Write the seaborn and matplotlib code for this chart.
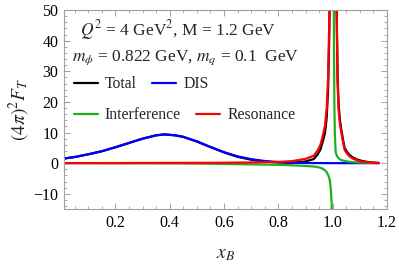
import numpy as np
import pandas as pd
import matplotlib
matplotlib.use('Agg')
import matplotlib.pyplot as plt
import seaborn as sns
from matplotlib.lines import Line2D
from matplotlib.ticker import MultipleLocator

# =====================
# DATA
# =====================
x_b = [0.01, 0.05, 0.1, 0.15, 0.2, 0.25, 0.3, 0.35, 0.38, 0.42,
       0.45, 0.5, 0.55, 0.6, 0.65, 0.7, 0.75, 0.8, 0.85, 0.9,
       0.93, 0.945, 0.955, 0.965, 0.972, 0.978, 0.983, 0.987, 0.99, 0.993,
       0.996, 0.998, 1.0, 1.002, 1.004, 1.006, 1.008, 1.011, 1.015, 1.018,
       1.022, 1.027, 1.032, 1.038, 1.044, 1.052, 1.062, 1.074, 1.09, 1.11,
       1.13, 1.15, 1.17]

dis = [1.5, 2.0, 2.9, 3.9, 5.2, 6.6, 8.0, 9.1, 9.4, 9.1,
       8.6, 7.1, 5.3, 3.6, 2.2, 1.3, 0.7, 0.35, 0.15, 0.06,
       0.03, 0.02, 0.02, 0.01, 0.01, 0.01, 0.0, 0.0, 0.0, 0.0,
       0.0, 0.0, 0.0, 0.0, 0.0, 0.0, 0.0, 0.0, 0.0, 0.0,
       0.0, 0.0, 0.0, 0.0, 0.0, 0.0, 0.0, 0.0, 0.0, 0.0,
       0.0, 0.0, 0.0]

interference = [0.0, -0.01, -0.02, -0.03, -0.04, -0.05, -0.06, -0.08, -0.09, -0.1,
                -0.12, -0.15, -0.2, -0.25, -0.32, -0.4, -0.48, -0.55, -0.7, -0.9,
                -1.1, -1.3, -1.5, -1.9, -2.4, -3.0, -3.8, -4.8, -6.0, -8.5,
                -13.0, -20.0, np.nan, 80.0, 50.0, 20.0, 9.0, 3.5, 2.5, 2.0,
                1.6, 1.2, 1.0, 0.85, 0.7, 0.55, 0.45, 0.35, 0.25, 0.18,
                0.12, 0.08, 0.05]

resonance = [0.0, 0.01, 0.01, 0.02, 0.03, 0.04, 0.05, 0.06, 0.07, 0.08,
             0.09, 0.1, 0.12, 0.15, 0.18, 0.22, 0.3, 0.4, 0.65, 1.4,
             2.4, 4.2, 6.0, 9.5, 12.5, 18.0, 28.0, 45.0, 65.0, 90.0,
             110.0, 120.0, 122.0, 120.0, 115.0, 105.0, 90.0, 70.0, 45.0, 26.0,
             17.0, 12.5, 9.8, 6.8, 4.3, 3.2, 2.2, 1.5, 0.9, 0.5,
             0.25, 0.1, 0.03]

total = [1.5, 2.0, 2.89, 3.89, 5.19, 6.59, 7.99, 9.08, 9.38, 9.08,
         8.57, 7.05, 5.22, 3.5, 2.06, 1.12, 0.52, 0.2, 0.1, 0.56,
         1.33, 2.92, 4.52, 7.61, 10.11, 15.01, 24.2, 40.2, 59.0, 81.5,
         97.0, 100.0, np.nan, 200.0, 165.0, 125.0, 99.0, 73.5, 47.5, 28.0,
         18.6, 13.7, 10.8, 7.65, 5.0, 3.75, 2.65, 1.85, 1.15, 0.68,
         0.37, 0.18, 0.08]

curve_names = ['Total', 'DIS', 'Interference', 'Resonance']
curve_colors = ['#000000', '#0000ff', '#1fb01f', '#ff0000']

# long-form table; a NaN marks a break, so each side gets its own unit
rows = []
for name, vals in zip(curve_names, [total, dis, interference, resonance]):
    branch = 0
    for xv, yv in zip(x_b, vals):
        if np.isnan(yv):
            branch += 1
            continue
        rows.append((xv, yv, name, f'{name}_{branch}'))
df = pd.DataFrame(rows, columns=['x', 'y', 'curve', 'branch'])

# =====================
# STYLE
# =====================
sns.set_theme(style='ticks')
plt.rcParams['font.family'] = ['Liberation Serif', 'DejaVu Serif']
plt.rcParams['mathtext.fontset'] = 'stix'

fig = plt.figure(figsize=(3.99, 2.64), dpi=100, facecolor='white')
ax = fig.add_axes([0.160, 0.208, 0.810, 0.754])

sns.lineplot(data=df, x='x', y='y', hue='curve', units='branch',
             estimator=None, sort=False, hue_order=curve_names,
             palette=curve_colors, linewidth=1.6, legend=False, ax=ax)

ax.set_xlim(0.01, 1.2)
ax.set_ylim(-15, 50)
ax.xaxis.set_major_locator(MultipleLocator(0.2))
ax.xaxis.set_minor_locator(MultipleLocator(0.05))
ax.yaxis.set_major_locator(MultipleLocator(10))
ax.yaxis.set_minor_locator(MultipleLocator(2))
ax.xaxis.set_major_formatter(matplotlib.ticker.FormatStrFormatter('%.1f'))

frame_col = '#a0a0a0'
for s in ax.spines.values():
    s.set_color(frame_col)
    s.set_linewidth(0.8)
ax.tick_params(which='both', direction='in', top=True, right=True,
               color=frame_col, labelsize=11.5, labelcolor='black')
ax.tick_params(which='major', length=4.5, width=0.7, pad=4)
ax.tick_params(which='minor', length=2.2, width=0.6)

ax.set_xlabel(r'$x_B$', fontsize=14)
ax.set_ylabel(r'$(4\pi)^2F_T$', fontsize=14)
ax.xaxis.set_label_coords(0.5, -0.185)
ax.yaxis.set_label_coords(-0.10, 0.5)

# =====================
# ANNOTATIONS
# =====================
ax.text(0.353, 0.899, r'$Q^2$ = 4 GeV$^2$, M = 1.2 GeV', transform=ax.transAxes,
        ha='center', va='center', fontsize=12.5)
ax.text(0.378, 0.759, r'$m_\phi$ = 0.822 GeV, $m_q$ = 0.1  GeV', transform=ax.transAxes,
        ha='center', va='center', fontsize=12.5)

# =====================
# LEGEND (two rows, each its own legend)
# =====================
handles = [Line2D([], [], color=c, linewidth=1.6) for c in curve_colors]
leg_kw = dict(ncol=2, frameon=False, fontsize=11.3, handlelength=1.55,
              handletextpad=0.45, columnspacing=0.95, borderpad=0, borderaxespad=0,
              loc='center left')
leg1 = ax.legend(handles[:2], curve_names[:2], bbox_to_anchor=(0.03, 0.628), **leg_kw)
ax.add_artist(leg1)
ax.legend(handles[2:], curve_names[2:], bbox_to_anchor=(0.03, 0.472), **leg_kw)

fig.savefig('out.png', dpi=100, facecolor='white')
